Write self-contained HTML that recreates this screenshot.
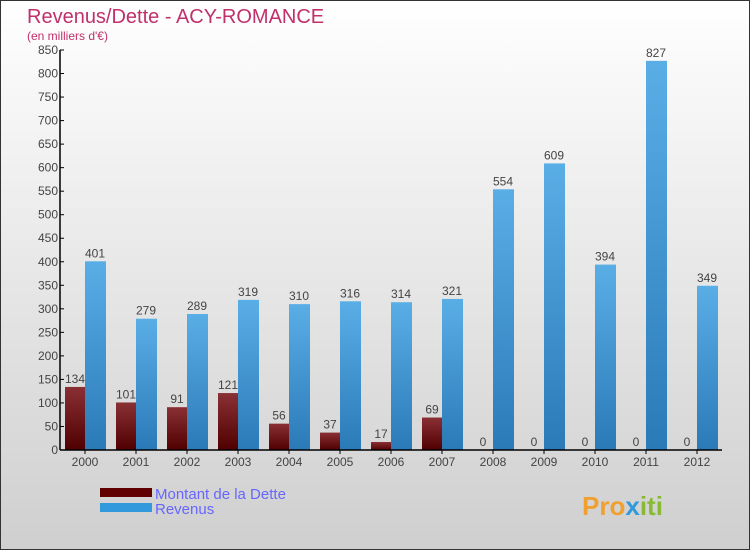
<!DOCTYPE html>
<html><head><meta charset="utf-8"><style>
body{margin:0}
#c{width:750px;height:550px;position:relative;overflow:hidden;font-family:"Liberation Sans",sans-serif;}
</style></head><body>
<div id="c">
<svg width="750" height="550" id="s" xmlns="http://www.w3.org/2000/svg">
<defs>
<linearGradient id="bg" x1="0" y1="0" x2="0" y2="1"><stop offset="0" stop-color="#ffffff"/><stop offset="1" stop-color="#cfcfcf"/></linearGradient>
<linearGradient id="gd" x1="0" y1="0" x2="0" y2="1"><stop offset="0" stop-color="#8a3035"/><stop offset="1" stop-color="#500000"/></linearGradient>
<linearGradient id="gr" x1="0" y1="0" x2="0" y2="1"><stop offset="0" stop-color="#5aaee6"/><stop offset="1" stop-color="#2a7ab8"/></linearGradient>
</defs>
<rect x="0.5" y="0.5" width="749" height="549" fill="url(#bg)" stroke="#333"/>
<text x="27" y="23" font-size="20" fill="#c0306a">Revenus/Dette - ACY-ROMANCE</text>
<text x="27" y="40" font-size="12" fill="#c0306a">(en milliers d'€)</text>
<g id="plot"></g>
<rect x="100" y="488" width="52" height="9" fill="#600000"/>
<rect x="100" y="503" width="52" height="9" fill="#3399dd"/>
<text x="155" y="499" font-size="15" fill="#6666ff">Montant de la Dette</text>
<text x="155" y="514" font-size="15" fill="#6666ff">Revenus</text>
<text x="582" y="515" font-size="26" font-weight="bold" fill="#f0a030">Pro<tspan fill="#3399dd">x</tspan><tspan fill="#88bb33">iti</tspan></text>
</svg>
<script>
const years=["2000","2001","2002","2003","2004","2005","2006","2007","2008","2009","2010","2011","2012"];
const dette=[134,101,91,121,56,37,17,69,0,0,0,0,0];
const revenus=[401,279,289,319,310,316,314,321,554,609,394,827,349];
const ticks=[0,50,100,150,200,250,300,350,400,450,500,550,600,650,700,750,800,850];
const NS="http://www.w3.org/2000/svg";
const g=document.getElementById('plot');
const y0=450,yTop=50,maxV=850,x0=60;
const y=v=>y0-v/maxV*(y0-yTop);
const xc=i=>85+i*51;
function mk(t,a,txt){const e=document.createElementNS(NS,t);for(const k in a)e.setAttribute(k,a[k]);if(txt!==undefined)e.textContent=txt;g.appendChild(e);return e;}
ticks.forEach(t=>{
 const l=mk('line',{x1:x0,x2:x0+4,y1:y(t),y2:y(t),stroke:'#000'});
 
 
 const tx=mk('text',{x:x0-2,y:y(t)+4,'font-size':12,fill:'#444','text-anchor':'end'},String(t));
 
 
});
years.forEach((yr,i)=>{
 const c=xc(i);
 const b1=mk('rect',{x:c-20,y:y(dette[i]),width:20,height:y0-y(dette[i]),fill:'url(#gd)'});
 
 
 const b2=mk('rect',{x:c,y:y(revenus[i]),width:21,height:y0-y(revenus[i]),fill:'url(#gr)'});
 
 
 const t1=mk('text',{x:c-10,y:y(dette[i])-4,'font-size':12,fill:'#444','text-anchor':'middle'},String(dette[i]));
 
 
 const t2=mk('text',{x:c+10,y:y(revenus[i])-4,'font-size':12,fill:'#444','text-anchor':'middle'},String(revenus[i]));
 
 
 const tk=mk('line',{x1:c,x2:c,y1:y0,y2:y0+4,stroke:'#000'});
 
 
 const xl=mk('text',{x:c,y:466,'font-size':12,fill:'#444','text-anchor':'middle'},yr);
 
 
});
const ya=mk('line',{x1:x0,x2:x0,y1:yTop,y2:y0,stroke:'#000','stroke-width':1.5});


const xa=mk('line',{x1:x0,x2:722,y1:y0,y2:y0,stroke:'#000','stroke-width':1.5});


</script>
</div>
</body></html>
